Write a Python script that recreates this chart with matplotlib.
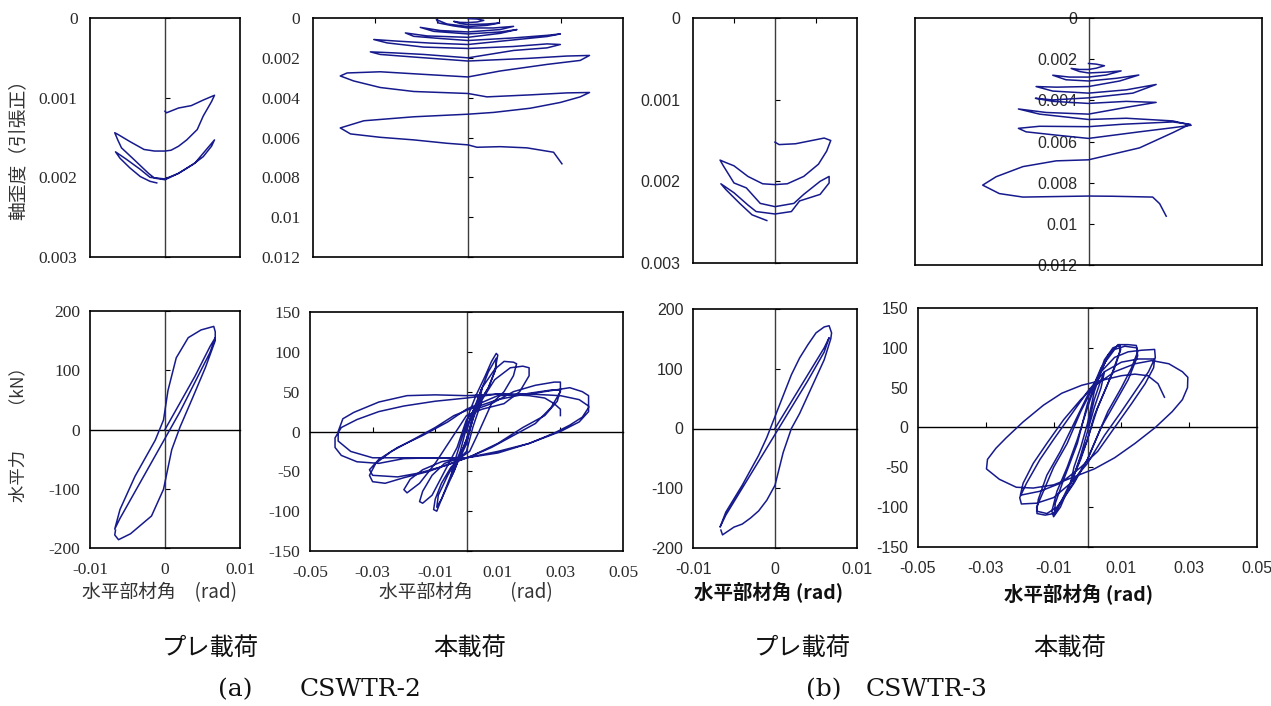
import matplotlib
matplotlib.use('Agg')
import matplotlib.pyplot as plt

# ---------------- data ----------------
# (a) CSWTR-2  pre-loading : member rotation [rad] vs axial strain
a_pre_rot = [0, 0.0002, 0.0018, 0.0035, 0.0051, 0.0066, 0.0062, 0.0051, 0.0043, 0.0029, 0.0018, 0.0008, 0,
             -0.0014, -0.0028, -0.0047, -0.0063, -0.0067, -0.0063, -0.0058, -0.0041, -0.0022, -0.0014, 0,
             0.0018, 0.004, 0.0057, 0.0066, 0.0062, 0.0051, 0.0037, 0.0018, 0, -0.002, -0.0033, -0.0052,
             -0.0066, -0.006, -0.0047, -0.0033, -0.002, -0.0011]
a_pre_strain = [0.00117, 0.00119, 0.00113, 0.0011, 0.00103, 0.00097, 0.00105, 0.00123, 0.0014, 0.00153, 0.00161,
                0.00166, 0.00167, 0.00167, 0.00165, 0.00155, 0.00146, 0.00144, 0.00153, 0.00163, 0.00178, 0.00195,
                0.00201, 0.00203, 0.00195, 0.00182, 0.00163, 0.00153, 0.00161, 0.00174, 0.00184, 0.00195, 0.00202,
                0.002, 0.0019, 0.00177, 0.00168, 0.00176, 0.00188, 0.00199, 0.00205, 0.00207]

# (a) CSWTR-2  main loading : rotation vs axial strain
a_main_rot = [0, 0.0029, 0.0051,
              0.0029, 0, -0.0025, -0.0046,
              -0.0025, 0, 0.0061, 0.0102,
              0.0061, 0, -0.0068, -0.0102, -0.0095,
              -0.0046, 0, 0.0083, 0.0147,
              0.0104, 0, -0.0089, -0.0154,
              -0.0111, 0, 0.0104, 0.0158,
              0.0104, 0, -0.0132, -0.0202,
              -0.0175, -0.0089, 0, 0.0147, 0.0255, 0.0298,
              0.0255, 0.0147, 0, -0.0121, -0.0229, -0.0304,
              -0.0261, -0.0143, 0, 0.0147, 0.0255, 0.0298,
              0.0255, 0.0147, 0, -0.0143, -0.024, -0.0315,
              -0.0283, -0.0175, 0, 0.019, 0.0319, 0.0392,
              0.0362, 0.0255, 0.0104, 0, -0.0143, -0.0283, -0.039, -0.0412,
              -0.0369, -0.0283, -0.0175, 0, 0.0061, 0.0201, 0.0319, 0.0392,
              0.0362, 0.0298, 0.0201, 0.0083, 0, -0.0175, -0.0336, -0.0412,
              -0.0379, -0.0283, -0.0175, -0.0068, 0, 0.0029, 0.0104, 0.019, 0.0276, 0.0303]
a_main_strain = [0.00003, 0.00005, 0.00012,
                 0.0002, 0.00023, 0.00022, 0.00017,
                 0.00028, 0.00033, 0.0003, 0.00025,
                 0.00037, 0.00043, 0.0003, 0.00008, 0.00025,
                 0.0004, 0.0005, 0.0005, 0.00042,
                 0.00058, 0.0007, 0.00063, 0.00047,
                 0.00067, 0.0008, 0.0007, 0.00058,
                 0.00077, 0.00097, 0.0009, 0.00075,
                 0.00092, 0.00103, 0.00113, 0.001, 0.00087, 0.0008,
                 0.00093, 0.0011, 0.00133, 0.00126, 0.00116, 0.00108,
                 0.00125, 0.00146, 0.00153, 0.00143, 0.0013, 0.00133,
                 0.0015, 0.00163, 0.002, 0.00183, 0.00175, 0.0017,
                 0.00183, 0.00196, 0.00216, 0.00203, 0.00191, 0.00188,
                 0.00213, 0.00233, 0.00266, 0.00296, 0.00283, 0.0027, 0.00276, 0.00291,
                 0.00316, 0.00349, 0.00369, 0.00379, 0.00396, 0.00386, 0.00376, 0.00374,
                 0.00396, 0.00424, 0.00453, 0.00474, 0.00483, 0.00496, 0.00516, 0.00552,
                 0.00582, 0.00599, 0.00612, 0.00629, 0.00637, 0.00649, 0.00646, 0.00652, 0.00674, 0.00732]

# (b) CSWTR-3  pre-loading : rotation vs axial strain
b_pre_rot = [0, 0.0005, 0.0025, 0.0045, 0.006, 0.0068, 0.0063, 0.0053, 0.0035, 0.0015, 0, -0.0015, -0.0033,
             -0.005, -0.006, -0.0067, -0.0063, -0.005, -0.0035, -0.0018, 0, 0.0023, 0.0035, 0.0055, 0.0066,
             0.0066, 0.0055, 0.003, 0.002, 0, -0.0023, -0.0033, -0.005, -0.0066, -0.006, -0.0043, -0.0028, -0.001]
b_pre_strain = [0.00152, 0.00155, 0.00154, 0.0015, 0.00147, 0.0015, 0.00163, 0.00179, 0.00194, 0.00203, 0.00204,
                0.00203, 0.00194, 0.00181, 0.00177, 0.00174, 0.00181, 0.00202, 0.00208, 0.00227, 0.00231, 0.00227,
                0.00216, 0.002, 0.00194, 0.00202, 0.00216, 0.00224, 0.00237, 0.0024, 0.00237, 0.00229, 0.00214,
                0.00203, 0.0021, 0.00227, 0.00241, 0.00248]

# (b) CSWTR-3  main loading : rotation vs axial strain
b_main_rot = [0, 0.0022, 0.0046,
              0.0022, 0, -0.0026, -0.005,
              -0.0026, 0, 0.0051, 0.0094,
              0.0051, 0, -0.0055, -0.0103,
              -0.0065, 0, 0.008, 0.0145,
              0.009, 0, -0.0093, -0.0151,
              -0.0103, 0, 0.0109, 0.0195,
              0.0128, 0, -0.0103, -0.0153,
              -0.0103, 0, 0.0109, 0.0195,
              0.0109, 0, -0.0122, -0.0202,
              -0.0141, 0, 0.0109, 0.0243, 0.0296,
              0.0243, 0.0147, 0, -0.0093, -0.018, -0.0202,
              -0.0141, 0, 0.0099, 0.0243, 0.0293,
              0.0243, 0.0147, 0, -0.0093, -0.0189, -0.0266, -0.0305,
              -0.0257, -0.0189, 0, 0.007, 0.0185, 0.0205, 0.0224]
b_main_strain = [0.00221, 0.00224, 0.00232,
                 0.00244, 0.0025, 0.0025, 0.00245,
                 0.0026, 0.00267, 0.00263, 0.00257,
                 0.00277, 0.00287, 0.00287, 0.00278,
                 0.003, 0.00306, 0.00293, 0.00277,
                 0.00306, 0.00333, 0.00336, 0.00333,
                 0.00355, 0.00365, 0.00349, 0.00323,
                 0.00365, 0.00388, 0.00398, 0.0039,
                 0.00405, 0.00415, 0.00405, 0.0041,
                 0.00434, 0.00467, 0.00459, 0.00442,
                 0.00467, 0.00493, 0.00487, 0.005, 0.00521,
                 0.00533, 0.00553, 0.00585, 0.00569, 0.00553, 0.00536,
                 0.00526, 0.00528, 0.00516, 0.00505, 0.00516,
                 0.00557, 0.00631, 0.00689, 0.00694, 0.00722, 0.00771, 0.00812,
                 0.00853, 0.0087, 0.00865, 0.00866, 0.0087, 0.00902, 0.00963]

# (a) CSWTR-2 pre-loading : rotation vs horizontal force [kN]
a_pre_f_rot = [0, 0.002, 0.004, 0.006, 0.0067, 0.006, 0.004, 0.002, 0, -0.002, -0.004, -0.006, -0.0067, -0.006,
               -0.004, -0.0013, -0.0002, 0.0004, 0.0015, 0.0031, 0.0048, 0.0065, 0.0067, 0.0067, 0.0054, 0.0037,
               0.002, 0.0009, -0.0002, -0.0018, -0.0046, -0.0062, -0.0067, -0.0066]
a_pre_force = [0, 45, 90, 140, 155, 130, 80, 30, -15, -60, -105, -150, -168, -135, -79, -18, 16, 66, 121, 155,
               168, 174, 165, 150, 105, 54, 4, -34, -101, -146, -176, -186, -178, -170]

# (a) CSWTR-2 main loading : rotation vs horizontal force
a_main_f_rot = [0, 0.002, 0.004, 0.005, 0.004, 0.002, 0, -0.002, -0.004, -0.005, -0.004, -0.002, 0, 0.001,
                0.003, 0.006, 0.008, 0.0095, 0.010, 0.009, 0.007, 0.004, 0.002, 0, -0.002, -0.005, -0.008,
                -0.0095, -0.0105, -0.01, -0.008, -0.005, -0.002, 0, 0.002, 0.004,
                0.007, 0.0095, 0.0095, 0.007, 0.003, 0, -0.004, -0.008, -0.0095, -0.009, -0.006, -0.003, 0, 0.002,
                0.005, 0.009, 0.012, 0.015, 0.016, 0.015, 0.012, 0.008, 0.003, 0, -0.003, -0.007, -0.011, -0.014,
                -0.015, -0.014, -0.011, -0.007, -0.002, 0, 0.002,
                0.005, 0.009, 0.014, 0.018, 0.02, 0.02, 0.017, 0.012, 0.005, 0, -0.005, -0.01, -0.015, -0.019,
                -0.02, -0.018, -0.014, -0.008, -0.002, 0.001, 0.004,
                0.008, 0.015, 0.022, 0.028, 0.03, 0.03, 0.027, 0.022, 0.015, 0.008, 0.001, -0.005, -0.012, -0.02,
                -0.026, -0.03, -0.031, -0.029, -0.024, -0.017, -0.01, -0.004, 0.001,
                0.01, 0.02, 0.027, 0.03, 0.029, 0.025, 0.018, 0.01, 0.002, -0.006, -0.015, -0.022, -0.03, -0.031,
                -0.028, -0.022, -0.014, -0.006, 0,
                0.01, 0.02, 0.028, 0.033, 0.037, 0.039, 0.039, 0.037, 0.033, 0.028, 0.02, 0.01, 0, -0.01, -0.02,
                -0.03, -0.037, -0.041, -0.041, -0.0395, -0.036, -0.028, -0.019, -0.01, 0,
                0.01, 0.02, 0.03, 0.036, 0.039, 0.039, 0.036, 0.03, 0.02, 0.01, 0, -0.01, -0.02, -0.028, -0.035,
                -0.04, -0.042, -0.042, -0.04, -0.035, -0.028, -0.02, -0.01, 0,
                0.01, 0.02, 0.025, 0.028, 0.03, 0.03]
a_main_force = [0, 25, 45, 55, 35, 15, -10, -30, -50, -58, -40, -15, 10, 25,
                45, 70, 88, 98, 96, 75, 55, 35, 25, 5, -25, -55, -85, -100, -98, -85, -65, -45, -33, -15, 15, 45,
                75, 92, 80, 55, 30, -10, -50, -85, -95, -80, -55, -35, -15, 20,
                55, 78, 88, 87, 85, 70, 50, 35, 28, 15, -20, -50, -80, -90, -88, -75, -55, -40, -33, -25, 5,
                40, 65, 80, 82, 80, 70, 50, 35, 28, 20, -10, -40, -65, -77, -73, -60, -48, -38, -33, -25, 0,
                35, 50, 58, 62, 62, 50, 30, 10, -5, -20, -32, -40, -50, -58, -65, -63, -55, -40, -25, -10, 5, 20, 28,
                40, 48, 52, 52, 38, 20, 5, -15, -30, -42, -52, -57, -55, -48, -35, -20, -5, 12, 28,
                45, 47, 52, 55, 50, 45, 30, 18, 8, -2, -15, -27, -33, -33, -33, -33, -25, -12, 0, 16, 24, 37, 45,
                46, 45,
                47, 47, 45, 40, 32, 25, 12, 0, -15, -25, -33, -33, -34, -40, -38, -30, -20, -8, 5, 15, 25, 32, 38, 42,
                47, 45, 42, 35, 28, 20]

# (b) CSWTR-3 pre-loading : rotation vs horizontal force
b_pre_f_rot = [0, 0.002, 0.004, 0.006, 0.0066, 0.006, 0.004, 0.002, 0, -0.002, -0.004, -0.006, -0.0067, -0.006,
               -0.004, -0.002, -0.001, 0, 0.001, 0.002, 0.003, 0.004, 0.005, 0.006, 0.0066, 0.0069, 0.0068, 0.006,
               0.005, 0.004, 0.003, 0.002, 0.001, 0, -0.001, -0.002, -0.003, -0.004, -0.005, -0.0064, -0.0066]
b_pre_force = [0, 45, 90, 135, 152, 128, 80, 35, -10, -55, -100, -145, -165, -140, -95, -45, -15, 20, 55, 90, 118,
               140, 160, 170, 172, 160, 150, 115, 85, 55, 25, 0, -40, -95, -120, -138, -150, -160, -165, -178, -170]

# (b) CSWTR-3 main loading : rotation vs horizontal force
b_main_f_rot = [0, 0.002, 0.004, 0.005, 0.004, 0.002, 0, -0.002, -0.004, -0.005, -0.004, -0.002, 0,
                0.002, 0.004, 0.006, 0.008, 0.0095, 0.0098, 0.008, 0.005, 0.002, 0, -0.002, -0.005, -0.008, -0.01,
                -0.0105, -0.009, -0.006, -0.003, 0, 0.002,
                0.005, 0.0075, 0.0095, 0.0095, 0.007, 0.003, 0, -0.004, -0.008, -0.0098, -0.0095, -0.007, -0.003, 0,
                0.003, 0.006, 0.009, 0.012, 0.0144, 0.0148, 0.013, 0.01, 0.006, 0.003, 0, -0.004, -0.008, -0.01,
                -0.0125, -0.0149, -0.015, -0.013, -0.01, -0.006, -0.002, 0.001,
                0.004, 0.008, 0.011, 0.0145, 0.0148, 0.012, 0.008, 0.004, 0, -0.005, -0.009, -0.012, -0.015, -0.0145,
                -0.012, -0.008, -0.004, 0,
                0.004, 0.008, 0.012, 0.016, 0.0198, 0.02, 0.018, 0.014, 0.01, 0.005, 0, -0.005, -0.01, -0.015,
                -0.0195, -0.02, -0.018, -0.014, -0.01, -0.005, 0,
                0.005, 0.01, 0.015, 0.0198, 0.0195, 0.017, 0.013, 0.008, 0.003, -0.002, -0.008, -0.014, -0.0198,
                -0.019, -0.016, -0.012, -0.007, -0.002, 0.002,
                0.008, 0.014, 0.019, 0.024, 0.028, 0.0296, 0.0295, 0.028, 0.025, 0.02, 0.014, 0.008, 0.002, -0.004,
                -0.01, -0.016, -0.021, -0.026, -0.0298, -0.0295, -0.027, -0.024, -0.019, -0.013, -0.0076, -0.0017,
                0.004, 0.01, 0.014, 0.0178, 0.0208, 0.0227]
b_main_force = [0, 35, 60, 70, 50, 25, -5, -35, -60, -70, -50, -25, 5,
                45, 70, 90, 100, 104, 98, 75, 45, 15, -15, -40, -70, -100, -112, -105, -80, -50, -15, 25, 50,
                85, 100, 103, 95, 65, 25, -15, -60, -95, -110, -95, -65, -20, 30,
                60, 90, 104, 104, 103, 95, 75, 50, 20, -10, -40, -70, -95, -108, -110, -108, -100, -80, -50, -20,
                20, 45,
                75, 98, 102, 100, 90, 60, 30, 0, -40, -75, -100, -108, -105, -90, -60, -30, 5, 40,
                70, 88, 95, 97, 98, 88, 70, 45, 20, -10, -45, -70, -88, -95, -96, -88, -70, -40, -15, 15, 45,
                70, 82, 86, 86, 75, 55, 30, 0, -30, -50, -70, -80, -85, -70, -45, -20, 10, 35, 52,
                70, 80, 84, 80, 70, 63, 50, 35, 20, 0, -20, -38, -52, -62, -72, -76, -75, -65, -52, -40, -26, -13,
                7, 28, 43, 53, 59, 65, 67, 65, 55, 38]

# axis ticks / labels
strain_pre_ticks = [0, 0.001, 0.002, 0.003]
strain_pre_labels = ['0', '0.001', '0.002', '0.003']
strain_main_ticks = [0, 0.002, 0.004, 0.006, 0.008, 0.010, 0.012]
strain_main_labels = ['0', '0.002', '0.004', '0.006', '0.008', '0.01', '0.012']
force_pre_ticks = [-200, -100, 0, 100, 200]
force_pre_labels = ['-200', '-100', '0', '100', '200']
force_main_ticks = [-150, -100, -50, 0, 50, 100, 150]
force_main_labels = ['-150', '-100', '-50', '0', '50', '100', '150']
rot_pre_ticks = [-0.01, 0, 0.01]
rot_pre_labels = ['-0.01', '0', '0.01']
rot_main_ticks = [-0.05, -0.03, -0.01, 0.01, 0.03, 0.05]
rot_main_labels = ['-0.05', '-0.03', '-0.01', '0.01', '0.03', '0.05']

# ---------------- figure ----------------
W, H = 1271, 706
fig = plt.figure(figsize=(W / 100, H / 100), dpi=100)
LINE = '#161a8c'
CENTER = '#3c3c3c'
NUM = '#2a2a2a'
JP = 'Noto Sans CJK JP'
SERIF_NUM = 'Liberation Serif'
SANS_NUM = 'Liberation Sans'


def add_panel(px, xs, ys, xlim, ylim, yticks, ylabels, num_font, num_size, ypad,
              invert=False, labels_on_axis=False, xticks=None, xlabels=None,
              center_xticks=(), top_xticks=(), xpad=10):
    l, t, r, b = px
    ax = fig.add_axes([l / W, 1 - b / H, (r - l) / W, (b - t) / H])
    ax.plot(xs, ys, color=LINE, lw=1.1, zorder=3, solid_joinstyle='round')
    ax.set_xlim(*xlim)
    if invert:
        ax.set_ylim(ylim[1], ylim[0])
    else:
        ax.set_ylim(*ylim)
    for sp in ax.spines.values():
        sp.set_color('black')
        sp.set_linewidth(1.2)
    txt = dict(fontfamily=num_font, fontsize=num_size, color=NUM)
    if labels_on_axis:
        ax.set_yticks([])
    else:
        ax.set_yticks(yticks)
        ax.set_yticklabels(ylabels, **txt)
        ax.tick_params(axis='y', length=0, pad=ypad)
    if xticks is not None:
        ax.set_xticks(xticks)
        ax.set_xticklabels(xlabels, **txt)
        ax.tick_params(axis='x', length=0, pad=xpad)
        sx = ax.secondary_xaxis(0.5)
        sx.set_alignment('bottom')
        sx.set_xticks(list(center_xticks))
        sx.tick_params(axis='x', direction='in', length=3.5, width=0.8,
                       labelbottom=False, labeltop=False)
        sx.spines['bottom'].set_color('black')
        sx.spines['bottom'].set_linewidth(1.0)
    else:
        ax.set_xticks(list(top_xticks))
        ax.xaxis.set_ticks_position('top')
        ax.tick_params(axis='x', direction='in', length=3.5, width=0.8,
                       labeltop=False, labelbottom=False)
    sy = ax.secondary_yaxis(0.5)
    sy.set_alignment('left')
    sy.set_yticks(yticks)
    if labels_on_axis:
        sy.set_yticklabels(ylabels, **txt)
        sy.tick_params(axis='y', direction='in', length=3.5, width=0.8, pad=ypad)
    else:
        sy.tick_params(axis='y', direction='in', length=3.5, width=0.8,
                       labelleft=False, labelright=False)
    sy.spines['left'].set_color(CENTER)
    sy.spines['left'].set_linewidth(1.0)
    return ax


# top row : axial strain (tension positive, axis downward)
add_panel((90, 18, 240, 257), a_pre_rot, a_pre_strain, (-0.01, 0.01), (0, 0.003),
          strain_pre_ticks, strain_pre_labels, SERIF_NUM, 12.5, 9, invert=True)
add_panel((313, 18, 623, 257), a_main_rot, a_main_strain, (-0.05, 0.05), (0, 0.012),
          strain_main_ticks, strain_main_labels, SERIF_NUM, 12.5, 9, invert=True,
          top_xticks=(-0.03, -0.01, 0.01, 0.03))
add_panel((693, 18, 857, 263), b_pre_rot, b_pre_strain, (-0.01, 0.01), (0, 0.003),
          strain_pre_ticks, strain_pre_labels, SANS_NUM, 11.5, 9, invert=True,
          top_xticks=(-0.005, 0.005))
add_panel((915, 18, 1262, 265), b_main_rot, b_main_strain, (-0.05, 0.05), (0, 0.012),
          strain_main_ticks, strain_main_labels, SANS_NUM, 11.5, 8, invert=True,
          labels_on_axis=True)

# bottom row : horizontal force
add_panel((90, 311, 240, 548), a_pre_f_rot, a_pre_force, (-0.01, 0.01), (-200, 200),
          force_pre_ticks, force_pre_labels, SERIF_NUM, 12.5, 7,
          xticks=rot_pre_ticks, xlabels=rot_pre_labels)
add_panel((310, 312, 623, 551), a_main_f_rot, a_main_force, (-0.05, 0.05), (-150, 150),
          force_main_ticks, force_main_labels, SERIF_NUM, 12.5, 7,
          xticks=rot_main_ticks, xlabels=rot_main_labels,
          center_xticks=(-0.03, -0.01, 0.01, 0.03))
add_panel((693, 309, 857, 548), b_pre_f_rot, b_pre_force, (-0.01, 0.01), (-200, 200),
          force_pre_ticks, force_pre_labels, SANS_NUM, 11.5, 7,
          xticks=rot_pre_ticks, xlabels=rot_pre_labels)
add_panel((918, 308, 1257, 547), b_main_f_rot, b_main_force, (-0.05, 0.05), (-150, 150),
          force_main_ticks, force_main_labels, SANS_NUM, 11.5, 7,
          xticks=rot_main_ticks, xlabels=rot_main_labels,
          center_xticks=(-0.03, -0.01, 0.01, 0.03))


def ftext(x, y, s, **kw):
    fig.text(x / W, 1 - y / H, s, **kw)


# axis titles
ftext(18, 145, '軸歪度（引張正）', rotation=90, ha='center', va='center',
      fontfamily=JP, fontsize=13.5, color='#333333')
ftext(18, 430, '水平力　　（kN）', rotation=90, ha='center', va='center',
      fontfamily=JP, fontsize=12.5, color='#333333')
ftext(160, 593, '水平部材角　(rad)', ha='center', va='center',
      fontfamily=JP, fontsize=13.5, color='#333333')
ftext(466, 593, '水平部材角　　(rad)', ha='center', va='center',
      fontfamily=JP, fontsize=13.5, color='#333333')
ftext(769, 593, '水平部材角 (rad)', ha='center', va='center',
      fontfamily=JP, fontsize=14, fontweight='bold', color='#111111')
ftext(1079, 595, '水平部材角 (rad)', ha='center', va='center',
      fontfamily=JP, fontsize=14, fontweight='bold', color='#111111')

# captions
for cx, s in [(210, 'プレ載荷'), (470, '本載荷'), (802, 'プレ載荷'), (1070, '本載荷')]:
    ftext(cx, 648, s, ha='center', va='center', fontfamily=JP, fontsize=17.5, color='#111111')
ftext(218, 690, '(a)', ha='left', va='center', fontfamily='DejaVu Serif', fontsize=18, color='#111111')
ftext(300, 690, 'CSWTR-2', ha='left', va='center', fontfamily='DejaVu Serif', fontsize=18, color='#111111')
ftext(806, 690, '(b)', ha='left', va='center', fontfamily='DejaVu Serif', fontsize=18, color='#111111')
ftext(866, 690, 'CSWTR-3', ha='left', va='center', fontfamily='DejaVu Serif', fontsize=18, color='#111111')

fig.savefig('out.png', dpi=100)
